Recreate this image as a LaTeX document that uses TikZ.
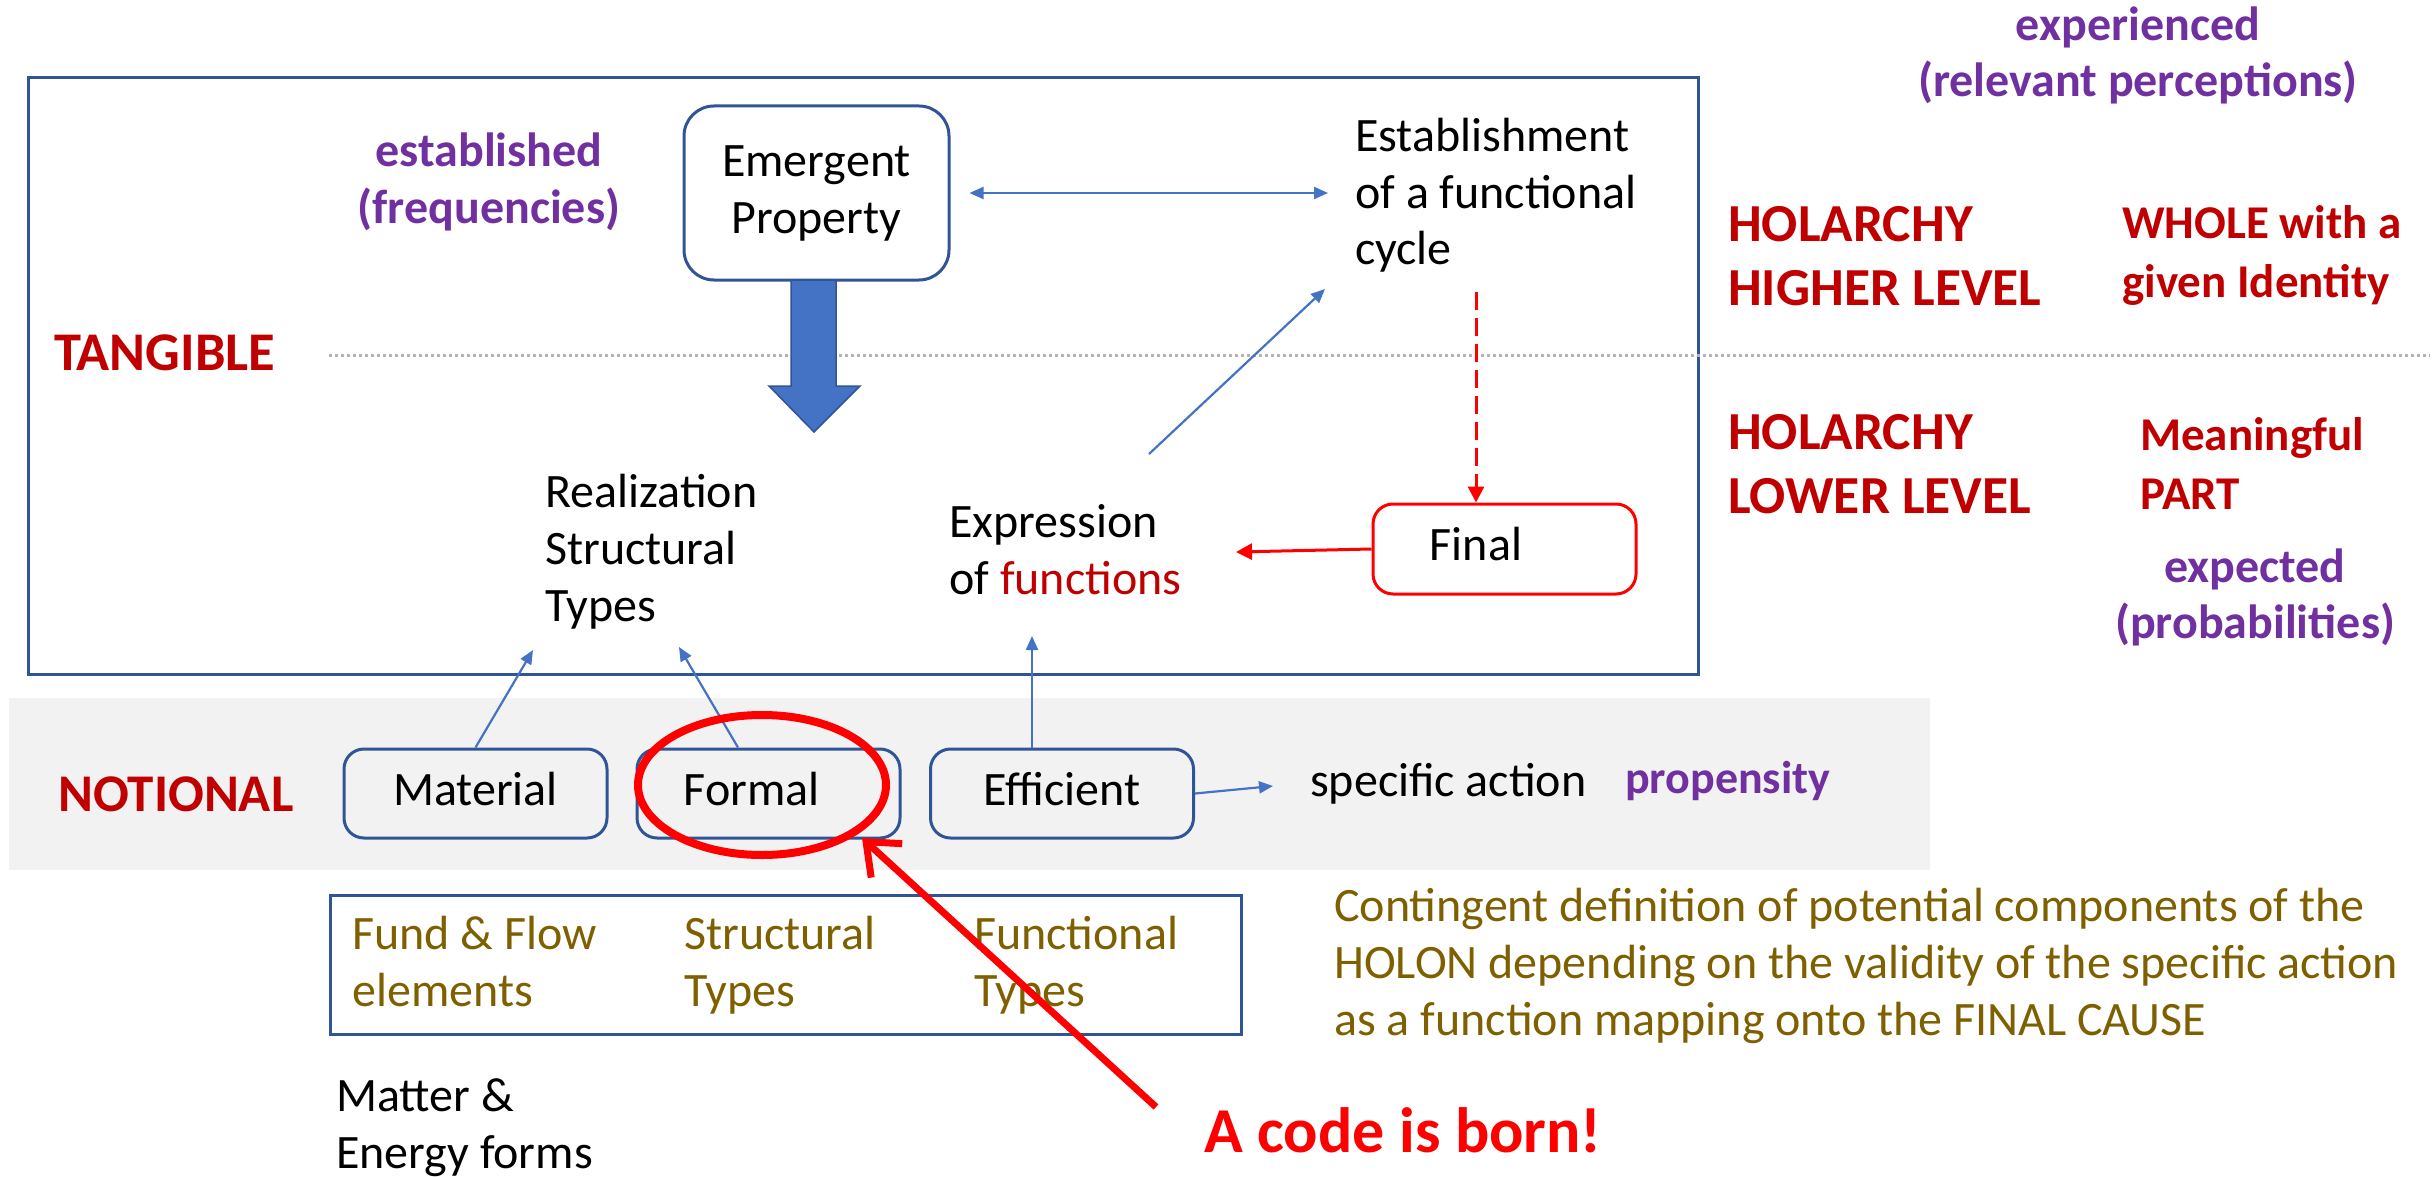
\documentclass[tikz,border=0pt]{standalone}
\usepackage{fontspec}
\setmainfont{Carlito}
\usetikzlibrary{arrows.meta}
\definecolor{dblue}{HTML}{2F5597}
\definecolor{ablue}{HTML}{4472C4}
\definecolor{dred}{HTML}{C00000}
\definecolor{vred}{HTML}{FF0000}
\definecolor{purp}{HTML}{7030A0}
\definecolor{olive}{HTML}{7F6000}
\definecolor{bandgray}{HTML}{F2F2F2}
\definecolor{dotgray}{HTML}{B4B4B4}
\tikzset{
  txt/.style={inner sep=0pt, anchor=base west, align=left, font=\fontsize{48}{57}\selectfont},
  redbold/.style={inner sep=0pt, anchor=base west, align=left, text=dred, font=\fontsize{53.5}{64}\selectfont\bfseries},
  redbold2/.style={inner sep=0pt, anchor=base west, align=left, text=dred, font=\fontsize{47}{59}\selectfont\bfseries},
  purbold/.style={inner sep=0pt, anchor=base, align=center, text=purp, font=\fontsize{48}{56}\selectfont\bfseries},
  causebox/.style={draw=dblue, line width=3pt, rounded corners=20pt, minimum width=263pt, minimum height=89pt,
     inner sep=0pt, text height=33pt, text depth=10pt, font=\fontsize{48}{57}\selectfont},
  barrow/.style={ablue, line width=2.2pt, -{Triangle[length=14pt,width=12pt]}},
  rarrow/.style={vred, line width=3pt, -{Triangle[length=16pt,width=16pt]}},
}
\begin{document}
\begin{tikzpicture}[x=1pt,y=-1pt]
\useasboundingbox (0,0) rectangle (2436,1177);
% backgrounds
\fill[bandgray] (9,698) rectangle (1930,870);
\draw[dblue, line width=3pt] (28,78) rectangle (1698,674);
\draw[dotgray, line width=3pt, dash pattern=on 3pt off 3pt] (329,355) -- (2430,355);

% purple labels (anchor = last baseline)
\node[purbold] (exper) at (2138,97) {experienced\\(relevant perceptions)};
\node[purbold] (estd) at (489,223) {established\\(frequencies)};
\node[purbold] (expd) at (2255,638) {expected\\(probabilities)};

\node[redbold, font=\fontsize{54.5}{64}\selectfont\bfseries] (tang) at (54,370) {TANGIBLE};
\node[redbold, font=\fontsize{53}{64}\selectfont\bfseries] (notio) at (58,811) {NOTIONAL};
\node[redbold] (holhi) at (1728,305) {HOLARCHY\\HIGHER LEVEL};
\node[redbold] (hollo) at (1728,513) {HOLARCHY\\LOWER LEVEL};
\node[redbold2] (whole) at (2122,297) {WHOLE with a\\given Identity};
\node[redbold2] (mean) at (2140,509) {Meaningful\\PART};

% emergent property box
\node[draw=dblue, line width=3pt, rounded corners=30pt, minimum width=265pt, minimum height=174pt,
      inner sep=0pt, align=center, font=\fontsize{48}{57}\selectfont] (emerg) at (816.5,193) {Emergent\\Property};

% big arrow
\filldraw[fill=ablue, draw=dblue, line width=1.5pt]
  (791,280) -- (836,280) -- (836,386) -- (860,386) -- (814,432) -- (769,386) -- (791,386) -- cycle;

\node[txt] (estab) at (1355,265) {Establishment\\of a functional\\cycle};
\node[txt] (real) at (545,621) {Realization\\Structural\\Types};
\node[txt] (expr) at (949,594) {Expression\\of \textcolor{dred}{functions}};

\node[draw=vred, line width=3pt, rounded corners=20pt, minimum width=263pt, minimum height=90pt,
      inner sep=0pt, text height=33pt, text depth=10pt, font=\fontsize{48}{57}\selectfont] (final) at (1504.5,549) {Final\rule{57pt}{0pt}};

% cause boxes
\node[causebox] (mat) at (475.5,793.5) {Material};
\node[causebox] (form) at (768.5,793.5) {Formal\rule{34pt}{0pt}};
\node[causebox] (eff) at (1062,793.5) {Efficient};

\node[txt] (spec) at (1310,796) {specific action};
\node[purbold, anchor=base west, font=\fontsize{46}{56}\selectfont\bfseries] (prop) at (1625,793) {propensity};

% bottom box
\draw[dblue, line width=3pt] (330,895) rectangle (1241,1034);
\node[txt, text=olive] (fund) at (352,1006) {Fund \& Flow\\elements};
\node[txt, text=olive] (struct) at (684,1006) {Structural\\Types};
\node[txt, text=olive] (funct) at (974,1006) {Functional\\Types};

\node[txt] (matter) at (336,1168) {Matter \&\\Energy forms};

\node[txt, text=olive] (cont) at (1334,1035) {Contingent definition of potential components of the\\HOLON depending on the validity of the specific action\\as a function mapping onto the FINAL CAUSE};

\node[inner sep=0pt, anchor=base west, text=vred, font=\fontsize{64}{75}\selectfont\bfseries] (born) at (1204,1152) {A code is born!};

% connector end points
\coordinate (realA) at (533,650);
\coordinate (realB) at (679,647);
\coordinate (exprIn) at (1032,636);
\coordinate (exprOut) at (1149,454);
\coordinate (estabIn) at (1325,289);
\coordinate (dashTop) at (1476,292);
\coordinate (exprR) at (1236,552);
\coordinate (specIn) at (1273,786);
\coordinate (bornTail) at (1156,1107);
\coordinate (ellTip) at (862,838);

% blue connectors
\draw[barrow, {Triangle[length=14pt,width=12pt]}-{Triangle[length=14pt,width=12pt]}, shorten <=19pt, shorten >=27pt]
  (emerg.east) -- (emerg.east -| estab.west);
\draw[barrow] (exprOut) -- (estabIn);
\draw[barrow] (mat.north) -- (realA);
\draw[barrow] (form.north -| 738,0) -- (realB);
\draw[barrow] (eff.north -| 1032,0) -- (exprIn);
\draw[barrow] (eff.east) -- (specIn);

% red connectors
\draw[rarrow, dash pattern=on 18pt off 8pt] (dashTop) -- (final.north -| dashTop);
\draw[rarrow] (final.west) -- (exprR);

% red ellipse and big arrow
\draw[vred, line width=8pt] (762,785) ellipse [x radius=124pt, y radius=70pt];
\draw[vred, line width=7pt, -{Straight Barb[length=28pt,width=46pt]}] (bornTail) -- (ellTip);
\end{tikzpicture}
\end{document}
